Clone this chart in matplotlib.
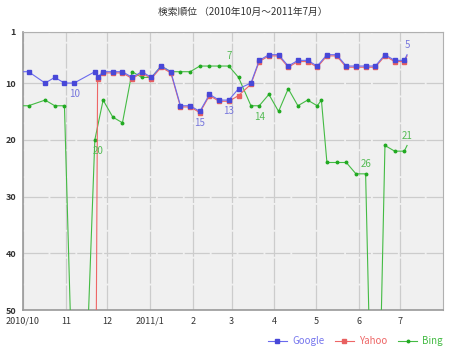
import datetime as dt

import matplotlib
matplotlib.use('Agg')
import matplotlib.pyplot as plt
from matplotlib import transforms

plt.rcParams['font.family'] = ['Noto Sans CJK JP', 'DejaVu Sans']

# weekly ranks; 100 = out of ranking (drawn off the chart)
google_dates = ['2010-09-28', '2010-10-05', '2010-10-17', '2010-10-24', '2010-10-31',
                '2010-11-07', '2010-11-22', '2010-11-24', '2010-11-28', '2010-12-05',
                '2010-12-12', '2010-12-19', '2010-12-26', '2011-01-02', '2011-01-09',
                '2011-01-16', '2011-01-23', '2011-01-30', '2011-02-06', '2011-02-13',
                '2011-02-20', '2011-02-27', '2011-03-06', '2011-03-15', '2011-03-21',
                '2011-03-28', '2011-04-04', '2011-04-11', '2011-04-18', '2011-04-25',
                '2011-05-02', '2011-05-09', '2011-05-16', '2011-05-23', '2011-05-30',
                '2011-06-06', '2011-06-13', '2011-06-20', '2011-06-27', '2011-07-04',
                '2011-07-06']
google_rank = [8, 8, 10, 9, 10, 10, 8, 9, 8, 8, 8, 9, 8, 9, 7, 8, 14, 14, 15, 12,
               13, 13, 11, 10, 6, 5, 5, 7, 6, 6, 7, 5, 5, 7, 7, 7, 7, 5, 6, 6, 5]

yahoo_dates = google_dates[6:]
yahoo_rank = [100, 9, 8, 8, 8, 9, 8, 9, 7, 8, 14, 14, 15, 12,
              13, 13, 12, 10, 6, 5, 5, 7, 6, 6, 7, 5, 5, 7, 7, 7, 7, 5, 6, 6, 5]

bing_dates = ['2010-09-28', '2010-10-05', '2010-10-17', '2010-10-24', '2010-10-31',
              '2010-11-10', '2010-11-22', '2010-11-28', '2010-12-05', '2010-12-12',
              '2010-12-19', '2010-12-26', '2011-01-02', '2011-01-09', '2011-01-16',
              '2011-01-23', '2011-01-30', '2011-02-06', '2011-02-13', '2011-02-20',
              '2011-02-27', '2011-03-06', '2011-03-15', '2011-03-21', '2011-03-28',
              '2011-04-04', '2011-04-11', '2011-04-18', '2011-04-25', '2011-05-02',
              '2011-05-05', '2011-05-09', '2011-05-16', '2011-05-23', '2011-05-30',
              '2011-06-06', '2011-06-13', '2011-06-20', '2011-06-27', '2011-07-04',
              '2011-07-06']
bing_rank = [14, 14, 13, 14, 14, 100, 20, 13, 16, 17, 8, 9, 9, 7, 8, 8, 8, 7, 7, 7,
             7, 9, 14, 14, 12, 15, 11, 14, 13, 14, 13, 24, 24, 24, 26, 26, 100, 21,
             22, 22, 21]

# (index, text, above?)
google_labels = [(5, '10', False), (18, '15', False), (21, '13', False), (40, '5', True)]
bing_labels = [(6, '20', False), (20, '7', True), (23, '14', False), (35, '26', True),
               (40, '21', True)]

month_ticks = ['2010-10-01', '2010-11-01', '2010-12-01', '2011-01-01', '2011-02-01',
               '2011-03-01', '2011-04-01', '2011-05-01', '2011-06-01', '2011-07-01']
month_labels = ['2010/10', '11', '12', '2011/1', '2', '3', '4', '5', '6', '7']
rank_ticks = [1, 10, 20, 30, 40, 50]


def to_dates(strs):
    return [dt.datetime.strptime(s, '%Y-%m-%d') for s in strs]


fig = plt.figure(figsize=(4.58, 3.52), dpi=100)
ax = fig.add_axes([0.0502, 0.1193, 0.9170, 0.7898])
ax.set_facecolor('#f0f0f0')

gx = to_dates(google_dates)
yx = to_dates(yahoo_dates)
bx = to_dates(bing_dates)

bing_line, = ax.plot(bx, bing_rank, '-', color='#44bb44', lw=0.8, marker='o', ms=1.8,
                     mfc='#22aa22', mec='#22aa22', markevery=list(range(len(bx) - 1)),
                     label='Bing', zorder=3)
red_off = transforms.offset_copy(ax.transData, fig=fig, x=0, y=-1.2, units='dots')
yahoo_line, = ax.plot(yx, yahoo_rank, '-', color='#ee6666', lw=0.8, marker='s', ms=2.4,
                      mfc='#e86060', mec='#e86060', transform=red_off,
                      markevery=list(range(len(yx) - 1)), label='Yahoo', zorder=4)
google_line, = ax.plot(gx, google_rank, '-', color='#6a6aee', lw=0.8, marker='s', ms=2.2,
                       mfc='#4848d8', mec='#4848d8', markevery=list(range(len(gx) - 1)),
                       label='Google', zorder=5)

for i, txt, above in google_labels:
    ax.annotate(txt, (gx[i], google_rank[i]), xytext=(0, 7 if above else -8),
                textcoords='offset points', ha='center', va='center',
                color='#7777dd', fontsize=7, zorder=6)
for i, txt, above in bing_labels:
    ax.annotate(txt, (bx[i], bing_rank[i]), xytext=(2 if i == 6 else 0, 7 if above else -8),
                textcoords='offset points', ha='center', va='center',
                color='#55bb55', fontsize=7, zorder=6)

ax.set_xlim(dt.datetime(2010, 10, 1), dt.datetime(2011, 8, 1))
ax.set_ylim(50, 1)
ax.set_xticks(to_dates(month_ticks))
ax.set_xticklabels(month_labels)
ax.set_yticks(rank_ticks)
ax.tick_params(axis='both', length=0, labelsize=6.5, colors='#333333')
ax.tick_params(axis='x', pad=5)
ax.tick_params(axis='y', pad=5)
for lab in ax.get_yticklabels():
    lab.set_fontweight('bold')
ax.grid(True, color='#cccccc', lw=0.9, dashes=(20, 1.5))
ax.set_axisbelow(True)
for side in ['left', 'bottom']:
    ax.spines[side].set_color('#999999')
    ax.spines[side].set_linewidth(1.2)
for side in ['top', 'right']:
    ax.spines[side].set_color('#b0b0b0')
    ax.spines[side].set_linewidth(0.8)

fig.text(0.53, 0.965, '検索順位 （2010年10月～2011年7月）', ha='center', va='center',
         fontsize=7, color='#333333')

leg = fig.legend(handles=[google_line, yahoo_line, bing_line], loc='center right',
                 bbox_to_anchor=(0.967, 0.03), ncol=3, frameon=False, fontsize=7,
                 handlelength=2.0, columnspacing=1.1, handletextpad=0.5,
                 borderpad=0, borderaxespad=0, numpoints=1,
                 labelcolor=['#7777ee', '#ee6666', '#44bb44'])
for h in leg.legend_handles:
    h.set_markevery([1])

fig.savefig('out.png', dpi=100)
